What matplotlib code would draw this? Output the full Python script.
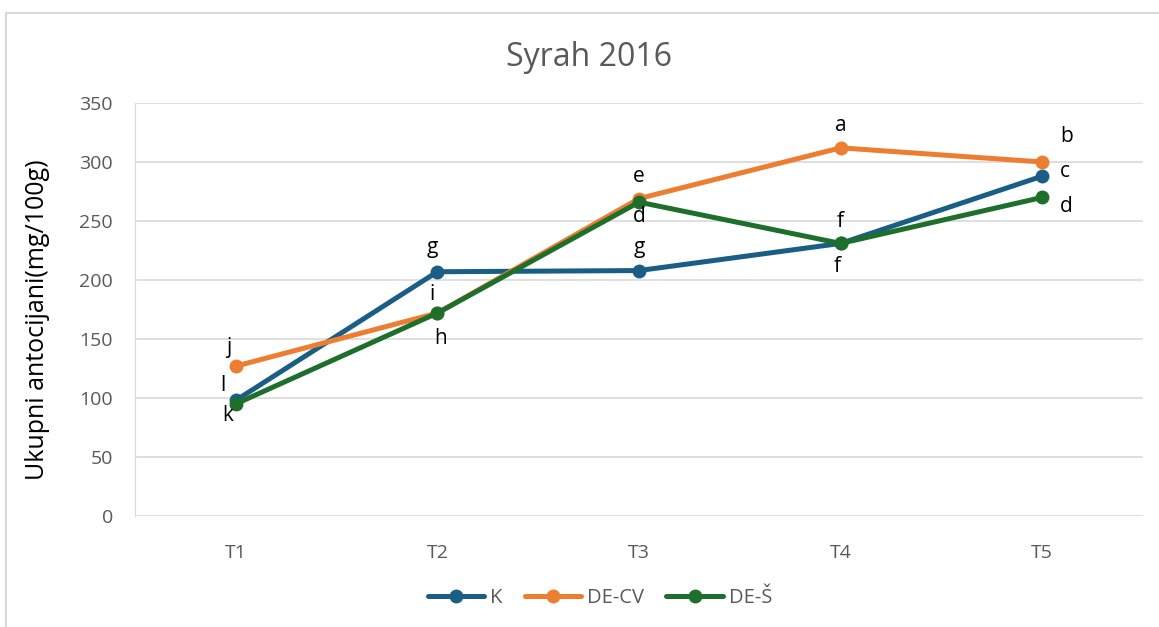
import matplotlib.pyplot as plt
from matplotlib.patches import Rectangle

# Data
categories = ['T1', 'T2', 'T3', 'T4', 'T5']
k_vals = [98, 207, 208, 231, 288]
decv_vals = [127, 172, 269, 312, 300]
des_vals = [95, 172, 266, 231, 270]

k_letters = ['l', 'g', 'g', 'f', 'c']
decv_letters = ['j', 'i', 'e', 'a', 'b']
des_letters = ['k', 'h', 'd', 'f', 'd']

# label offsets in pixels
k_off = [(-13, 15), (-5, 24), (0, 23), (-3, -23), (23, 5)]
decv_off = [(-7, 19), (-5, 19), (0, 22), (0, 22), (24, 25)]
des_off = [(-8, -12), (3, -25), (0, -14), (0, 22), (24, -9)]

plt.rcParams['font.family'] = ['Open Sans', 'DejaVu Sans']

fig = plt.figure(figsize=(11.59, 6.27), dpi=100)
fig.patches.append(Rectangle((6 / 1159, -0.1), 1.2, (627 - 13) / 627 + 0.1,
                             transform=fig.transFigure, fill=False,
                             edgecolor='#d9d9d9', linewidth=1.5))
ax = fig.add_axes([135 / 1159, 111 / 627, (1143 - 135) / 1159, (516 - 103) / 627])

series = [
    ('K', k_vals, '#1b5e85', k_letters, k_off),
    ('DE-CV', decv_vals, '#ed7d31', decv_letters, decv_off),
    ('DE-Š', des_vals, '#1e6e2c', des_letters, des_off),
]
x = list(range(len(categories)))
for name, vals, color, letters, offs in series:
    ax.plot(x, vals, color=color, linewidth=3.6, marker='o', markersize=9,
            label=name, solid_capstyle='round')
    for xi, yi, lt, off in zip(x, vals, letters, offs):
        ax.annotate(lt, (xi, yi), xytext=off, textcoords='offset pixels',
                    ha='center', va='center', fontsize=15, color='black')

ax.set_xlim(-0.5, 4.5)
ax.set_ylim(0, 350)
ax.set_yticks(range(0, 351, 50))
ax.set_xticks(x)
ax.set_xticklabels(categories)
ax.grid(axis='y', color='#d9d9d9', linewidth=1.2)
ax.set_axisbelow(True)
for s in ['top', 'right', 'bottom']:
    ax.spines[s].set_visible(False)
ax.spines['left'].set_color('#d9d9d9')
ax.tick_params(length=0, labelsize=14, colors='#595959')
ax.tick_params(axis='y', pad=16)
ax.tick_params(axis='x', pad=20)

fig.text(38 / 1159, 1 - 320 / 627, 'Ukupni antocijani(mg/100g)', rotation=90,
         ha='center', va='center', fontsize=18, color='black')
fig.text(589 / 1159, 1 - 58 / 627, 'Syrah 2016', ha='center', va='center',
         fontsize=23, color='#595959')

fig.legend(loc='center', bbox_to_anchor=(600 / 1159, 1 - 598 / 627), ncol=3,
           frameon=False, fontsize=14.5, labelcolor='#595959', handlelength=2.8,
           columnspacing=1.1, handletextpad=0.3)

fig.savefig('out.png', dpi=100)
